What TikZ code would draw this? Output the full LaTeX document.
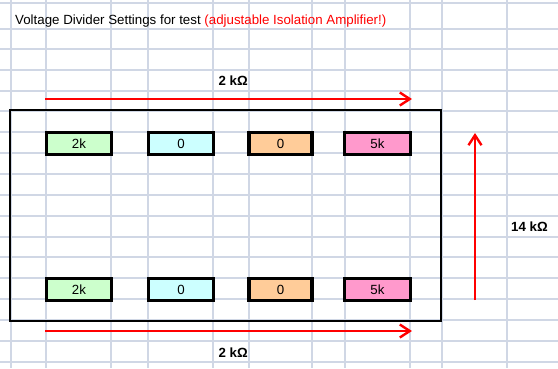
\documentclass[tikz,border=0pt]{standalone}
\usepackage{fontspec}
\setmainfont{Liberation Sans}
\usetikzlibrary{arrows.meta}
\definecolor{gridc}{HTML}{D0D7E5}
\definecolor{resgreen}{HTML}{CCFFCC}
\definecolor{rescyan}{HTML}{CCFFFF}
\definecolor{resorange}{HTML}{FFCC99}
\definecolor{respink}{HTML}{FF99CC}
\tikzset{
  cellfont/.style={font=\fontsize{13.3}{16}\selectfont},
  res/.style={draw=black, line width=3.3pt, minimum height=22pt, inner sep=0pt, cellfont},
  redarrow/.style={draw=red, line width=2.6pt, -{Straight Barb[length=10pt,width=13pt,line width=2.4pt]}},
  boldlabel/.style={font=\fontsize{13.3}{16}\selectfont\bfseries, inner sep=0pt},
  gridline/.style={draw=gridc, line width=1.1pt}
}
\begin{document}
\begin{tikzpicture}[x=1pt,y=-1pt]
\useasboundingbox (0,0) rectangle (558,368);
\fill[white] (0,0) rectangle (558,368);
% spreadsheet grid
\foreach \gx in {11,46,111,148,213,249,312,345,410,442,507}
  \draw[gridline] (\gx,0) -- (\gx,368);
\foreach \gy in {3,29,49,70,91,111,132,153,174,195,216,237,257,278,299,320,341,362}
  \draw[gridline] (0,\gy) -- (558,\gy);
% title
\node[anchor=base west, inner sep=0pt, cellfont] (title) at (15,24.5)
  {Voltage Divider Settings for test \textcolor{red}{(adjustable Isolation Amplifier!)}};
% outer box
\node[draw=black, line width=2.6pt, minimum width=431pt, minimum height=211pt, inner sep=0pt] (frame) at (225.5,215.5) {};
% resistors top row
\node[res, fill=resgreen,  minimum width=65pt] (r1) at (79,143.5) {2k};
\node[res, fill=rescyan,   minimum width=65pt] (r2) at (181,143.5) {0};
\node[res, fill=resorange, minimum width=63pt] (r3) at (280.5,143.5) {0};
\node[res, fill=respink,   minimum width=66pt] (r4) at (377.5,143.5) {5k};
% resistors bottom row
\node[res, fill=resgreen,  minimum width=65pt] (r5) at (79,289.5) {2k};
\node[res, fill=rescyan,   minimum width=65pt] (r6) at (181,289.5) {0};
\node[res, fill=resorange, minimum width=63pt] (r7) at (280.5,289.5) {0};
\node[res, fill=respink,   minimum width=66pt] (r8) at (377.5,289.5) {5k};
% arrows
\coordinate (ta) at (45,99);
\coordinate (tb) at (412,99);
\coordinate (ba) at (45,331);
\coordinate (bb) at (412,331);
\coordinate (va) at (475,300);
\coordinate (vb) at (475,133);
\draw[redarrow] (ta) -- (tb);
\draw[redarrow] (ba) -- (bb);
\draw[redarrow] (va) -- (vb);
% labels
\node[boldlabel, anchor=base east] (ltop) at (248,85) {2 kΩ};
\node[boldlabel, anchor=base east] (lbot) at (248,357) {2 kΩ};
\node[boldlabel, anchor=base west] (lside) at (511,231.5) {14 kΩ};
\end{tikzpicture}
\end{document}
